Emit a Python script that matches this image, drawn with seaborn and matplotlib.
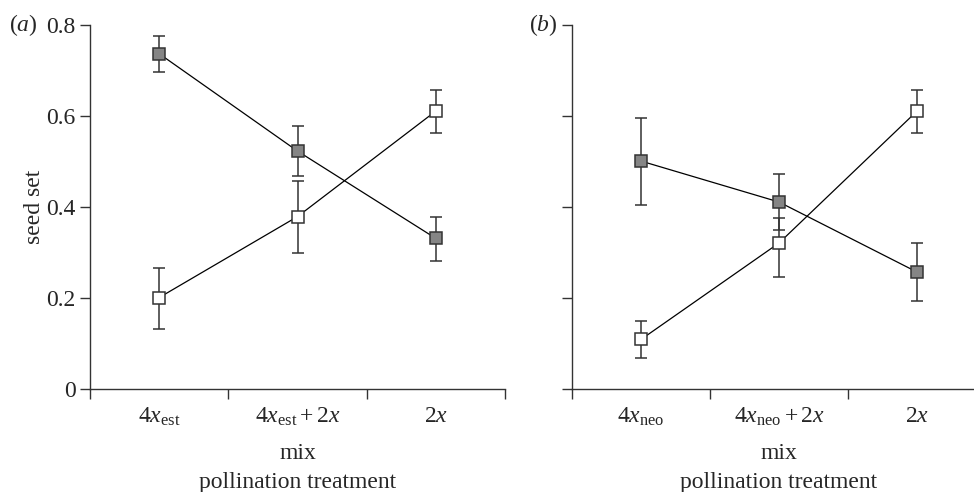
import numpy as np
import pandas as pd
import seaborn as sns
import matplotlib.pyplot as plt

# %% data
positions = [0, 1, 2]
labels_a = [r'$4x_{\mathrm{est}}$', r'$4x_{\mathrm{est}}+2x$', r'$2x$']
labels_b = [r'$4x_{\mathrm{neo}}$', r'$4x_{\mathrm{neo}}+2x$', r'$2x$']

# panel (a): established tetraploids
a_grey = [0.737, 0.523, 0.331]
a_grey_lo = [0.697, 0.468, 0.281]
a_grey_hi = [0.777, 0.578, 0.378]
a_white = [0.201, 0.379, 0.611]
a_white_lo = [0.132, 0.299, 0.563]
a_white_hi = [0.266, 0.457, 0.658]

# panel (b): neotetraploids
b_grey = [0.501, 0.411, 0.257]
b_grey_lo = [0.405, 0.349, 0.193]
b_grey_hi = [0.595, 0.472, 0.321]
b_white = [0.109, 0.321, 0.611]
b_white_lo = [0.068, 0.246, 0.562]
b_white_hi = [0.150, 0.376, 0.658]

sns.set_style('ticks')
plt.rcParams['font.family'] = ['Liberation Serif', 'DejaVu Serif']
plt.rcParams['mathtext.fontset'] = 'custom'
plt.rcParams['mathtext.rm'] = 'Liberation Serif'
plt.rcParams['mathtext.it'] = 'Liberation Serif:italic'
plt.rcParams['font.size'] = 17

fig = plt.figure(figsize=(9.74, 4.92), dpi=100)
ax_a = fig.add_axes([0.0924, 0.2093, 0.4261, 0.7398])
ax_b = fig.add_axes([0.5873, 0.2093, 0.4251, 0.7398])

dark = '#333333'


def draw_panel(ax, white, wlo, whi, grey, glo, ghi, labels):
    for vals, lo, hi, fill in [(white, wlo, whi, 'white'), (grey, glo, ghi, '#858585')]:
        vals = np.array(vals)
        yerr = [vals - np.array(lo), np.array(hi) - vals]
        ax.errorbar(positions, vals, yerr=yerr, fmt='none', ecolor=dark,
                    elinewidth=1.1, capsize=4, capthick=1.1, zorder=2)
        df = pd.DataFrame({'pos': positions, 'seed': vals})
        sns.lineplot(data=df, x='pos', y='seed', ax=ax, color='black', linewidth=0.9,
                     marker='s', markersize=9, markerfacecolor=fill,
                     markeredgecolor=dark, markeredgewidth=1.1, zorder=3)
    ax.set_xlim(-0.5, 2.5)
    ax.set_ylim(0, 0.8)
    ax.set_xticks([-0.5, 0.5, 1.5, 2.5])
    ax.set_xticklabels([])
    ax.set_xticks(positions, minor=True)
    ax.set_xticklabels(labels, minor=True)
    ax.tick_params(axis='x', which='minor', length=0, pad=12)
    ax.tick_params(axis='both', which='major', length=7, width=1, color=dark, direction='out')
    ax.set_yticks([0, 0.2, 0.4, 0.6, 0.8])
    ax.set_xlabel('mix\npollination treatment', linespacing=1.5, labelpad=11)
    for side in ['left', 'bottom']:
        ax.spines[side].set_color(dark)
        ax.spines[side].set_linewidth(1)
    sns.despine(ax=ax)


draw_panel(ax_a, a_white, a_white_lo, a_white_hi, a_grey, a_grey_lo, a_grey_hi, labels_a)
draw_panel(ax_b, b_white, b_white_lo, b_white_hi, b_grey, b_grey_lo, b_grey_hi, labels_b)

ax_a.set_yticklabels(['0', '0.2', '0.4', '0.6', '0.8'])
ax_a.set_ylabel('seed set', labelpad=1)
ax_b.set_yticklabels([])
ax_b.set_ylabel('')

ax_a.text(-0.195, 1.0, r'($\mathit{a}$)', transform=ax_a.transAxes, va='center', ha='left')
ax_b.text(-0.105, 1.0, r'($\mathit{b}$)', transform=ax_b.transAxes, va='center', ha='left')

fig.savefig('out.png', dpi=100)
